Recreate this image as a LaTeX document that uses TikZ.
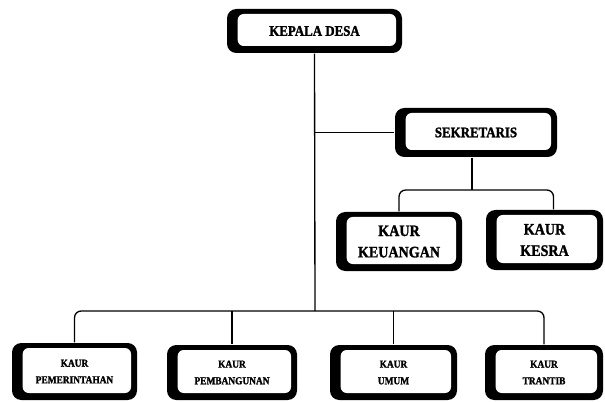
\documentclass[tikz,border=0pt]{standalone}
\usepackage{fontspec}
\setmainfont{Liberation Serif}
\newfontfamily\lblfont[FakeStretch=0.88,FakeBold=1.5]{Liberation Serif}
\usetikzlibrary{calc}
\begin{document}
\begin{tikzpicture}[x=0.75pt,y=-0.75pt,line width=1pt,
  frame/.style={rectangle, rounded corners=7pt, fill=black, inner sep=0pt, align=center,
    path picture={\fill[white, rounded corners=4.5pt]
      ([xshift=8pt,yshift=5.25pt]path picture bounding box.south west) rectangle
      ([xshift=-4.5pt,yshift=-3.75pt]path picture bounding box.north east);}},
  topfont/.style={font=\lblfont\bfseries\fontsize{11}{13}\selectfont},
  midfont/.style={font=\lblfont\bfseries\fontsize{12}{16}\selectfont},
  lowfont/.style={font=\lblfont\bfseries\fontsize{8}{12.5}\selectfont}]
\useasboundingbox (0,0) rectangle (605,402);
\node[frame,topfont,minimum width=131.25pt,minimum height=33pt] (kd) at (314.5,31) {KEPALA DESA};
\node[frame,topfont,minimum width=121.5pt,minimum height=36.75pt] (sek) at (476,132.5) {SEKRETARIS};
\node[frame,midfont,minimum width=94.5pt,minimum height=44.25pt] (keu) at (399,241.5) {KAUR\\KEUANGAN};
\node[frame,midfont,minimum width=87.75pt,minimum height=45pt] (kes) at (544.5,240) {KAUR\\KESRA};
\node[frame,lowfont,minimum width=93.75pt,minimum height=42.75pt] (b1) at (74.5,371.5) {KAUR\\PEMERINTAHAN};
\node[frame,lowfont,minimum width=97.5pt,minimum height=41.25pt] (b2) at (232,372.5) {KAUR\\PEMBANGUNAN};
\node[frame,lowfont,minimum width=95.25pt,minimum height=41.25pt] (b3) at (393.5,372.5) {KAUR\\UMUM};
\node[frame,lowfont,minimum width=88.5pt,minimum height=41.25pt] (b4) at (544,372.5) {KAUR\\TRANTIB};
\coordinate (bus) at (315,311);
\coordinate (sj) at (472,190);
\coordinate (kesdrop) at ($(kes.north)+(9,0)$);
\draw (kd.south) -- (bus);
\draw (kd.south |- sek.west) -- (sek.west);
\draw (sek.south -| sj) -- (sj);
\draw[rounded corners=5pt] (keu.north) -- (keu.north |- sj) -- (kesdrop |- sj) -- (kesdrop);
\draw[rounded corners=5pt] (b1.north) -- (b1.north |- bus) -- (b4.north |- bus) -- (b4.north);
\draw (b2.north) -- (b2.north |- bus);
\draw (b3.north) -- (b3.north |- bus);
\end{tikzpicture}
\end{document}
